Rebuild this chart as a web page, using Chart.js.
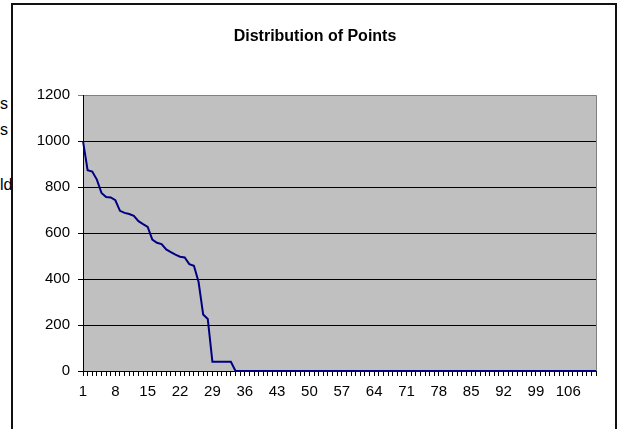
<!DOCTYPE html>
<html>
<head>
<meta charset="utf-8">
<script src="https://cdn.jsdelivr.net/npm/chart.js@4/dist/chart.umd.min.js"></script>
<style>
  body { margin: 0; background: #fff; }
  #page { position: relative; width: 624px; height: 429px; overflow: hidden; font-family: "Liberation Sans", Arial, sans-serif; }
  .frag { position: absolute; left: 0; font-size: 16px; color: #000; white-space: nowrap; }
  #box { position: absolute; left: 11px; top: 3px; width: 602px; height: 460px; border: 2px solid #111; background: #fff; }
  #chart { position: absolute; left: 0; top: 0; }
</style>
</head>
<body>
<div id="page">
  <div class="frag" style="top:95px">s</div>
  <div class="frag" style="top:121px">s</div>
  <div class="frag" style="top:176px">ld</div>
  <div id="box"></div>
  <canvas id="chart" width="624" height="429"></canvas>
</div>
<script>
var chartTitle = 'Distribution of Points';

var categories = [
    1, 2, 3, 4, 5, 6, 7, 8, 9, 10, 11, 12, 13, 14, 15, 16, 17, 18, 19, 20,
    21, 22, 23, 24, 25, 26, 27, 28, 29, 30, 31, 32, 33, 34, 35, 36, 37, 38, 39, 40,
    41, 42, 43, 44, 45, 46, 47, 48, 49, 50, 51, 52, 53, 54, 55, 56, 57, 58, 59, 60,
    61, 62, 63, 64, 65, 66, 67, 68, 69, 70, 71, 72, 73, 74, 75, 76, 77, 78, 79, 80,
    81, 82, 83, 84, 85, 86, 87, 88, 89, 90, 91, 92, 93, 94, 95, 96, 97, 98, 99, 100,
    101, 102, 103, 104, 105, 106, 107, 108, 109, 110, 111, 112
];

var points = [
    1000, 874, 868, 833, 775, 757, 755, 743, 697, 688, 683, 675, 652, 639, 627, 572, 558, 552, 529, 517,
    506, 497, 494, 465, 458, 388, 246, 226, 40, 40, 40, 40, 40, 0, 0, 0, 0, 0, 0, 0,
    0, 0, 0, 0, 0, 0, 0, 0, 0, 0, 0, 0, 0, 0, 0, 0, 0, 0, 0, 0,
    0, 0, 0, 0, 0, 0, 0, 0, 0, 0, 0, 0, 0, 0, 0, 0, 0, 0, 0, 0,
    0, 0, 0, 0, 0, 0, 0, 0, 0, 0, 0, 0, 0, 0, 0, 0, 0, 0, 0, 0,
    0, 0, 0, 0, 0, 0, 0, 0, 0, 0, 0, 0
];

var yTicks = [0, 200, 400, 600, 800, 1000, 1200];
var labelEvery = 7;

// grey plot background plus the grey right edge
var plotArea = {
    id: 'plotArea',
    beforeDraw: function(chart) {
        var a = chart.chartArea, ctx = chart.ctx;
        ctx.save();
        ctx.fillStyle = '#c0c0c0';
        ctx.fillRect(a.left, a.top, a.right - a.left, a.bottom - a.top);
        ctx.restore();
    },
    beforeDatasetsDraw: function(chart) {
        var a = chart.chartArea, ctx = chart.ctx;
        ctx.save();
        ctx.strokeStyle = '#808080';
        ctx.lineWidth = 1;
        ctx.beginPath();
        ctx.moveTo(a.right + 0.5, a.top);
        ctx.lineTo(a.right + 0.5, a.bottom);
        ctx.stroke();
        ctx.restore();
    }
};

Chart.defaults.font.family = '"Liberation Sans", Arial, sans-serif';
Chart.defaults.color = '#000';

var chart = new Chart(document.getElementById('chart').getContext('2d'), {
    type: 'line',
    data: {
        labels: categories,
        datasets: [{
            data: points,
            borderColor: '#000080',
            borderWidth: 2,
            pointRadius: 0,
            tension: 0,
            clip: 4
        }]
    },
    options: {
        responsive: false,
        animation: false,
        layout: { padding: { left: 34, right: 28, top: 20, bottom: 18 } },
        plugins: {
            legend: { display: false },
            tooltip: { enabled: false },
            title: {
                display: true,
                text: chartTitle,
                font: { size: 16, weight: 'bold' },
                padding: { top: 7, bottom: 49 }
            }
        },
        scales: {
            x: {
                offset: false,
                afterFit: function(s) { s.height = 40; },
                grid: { drawOnChartArea: false, tickLength: 5, color: '#000' },
                border: { color: '#000', width: 1 },
                ticks: {
                    autoSkip: false,
                    maxRotation: 0,
                    padding: 7,
                    font: { size: 15 },
                    callback: function(v, i) { return i % labelEvery === 0 ? String(categories[i]) : ''; }
                }
            },
            y: {
                min: yTicks[0],
                max: yTicks[yTicks.length - 1],
                afterFit: function(s) { s.width = 49; },
                afterBuildTicks: function(s) { s.ticks = yTicks.map(function(v) { return { value: v }; }); },
                grid: {
                    tickLength: 5,
                    color: function(c) { return c.tick && c.tick.value === 1200 ? '#808080' : '#000'; }
                },
                border: { color: '#000', width: 1 },
                ticks: {
                    padding: 8,
                    font: { size: 15 },
                    callback: function(v) { return String(v); }
                }
            }
        }
    },
    plugins: [plotArea]
});
</script>
</body>
</html>
